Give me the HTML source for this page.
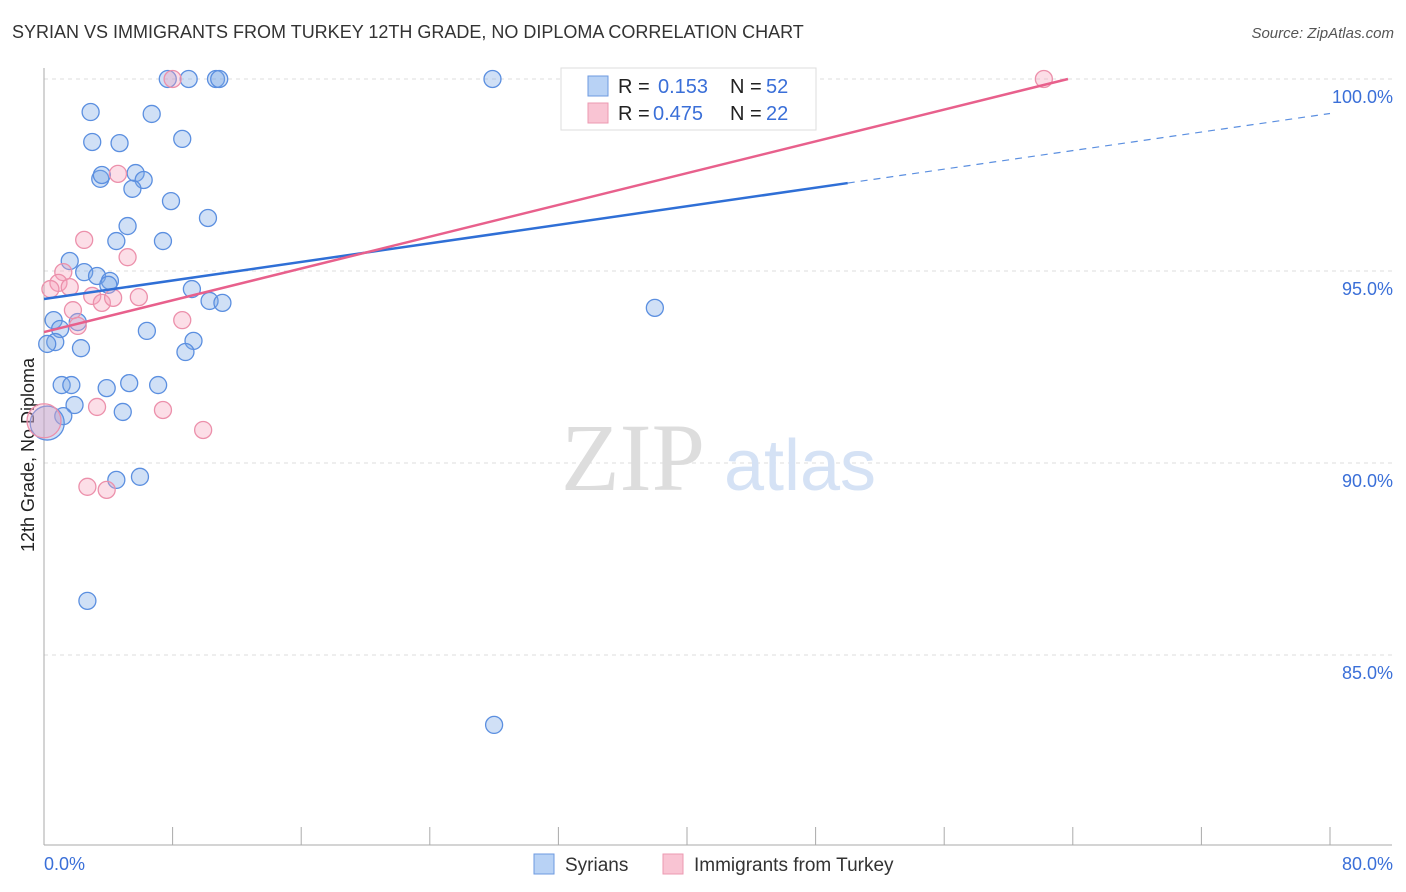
<!DOCTYPE html>
<html><head><meta charset="utf-8"><style>
body{margin:0;background:#fff;font-family:"Liberation Sans",sans-serif;}
#wrap{position:relative;width:1406px;height:892px;overflow:hidden;}
.t{position:absolute;white-space:nowrap;}
</style></head><body>
<div id="wrap">
<div class="t" style="left:12px;top:22px;font-size:18px;color:#333;">SYRIAN VS IMMIGRANTS FROM TURKEY 12TH GRADE, NO DIPLOMA CORRELATION CHART</div>
<div class="t" style="right:12px;top:25px;font-size:15px;color:#555;font-style:italic;">Source: ZipAtlas.com</div>
<svg id="plot" width="1406" height="892" style="position:absolute;left:0;top:0"></svg>
</div>
<script>
const xTicksPct=[0,80];
const yTicks=[85,90,95,100];
const syrX=[7.7,9.0,10.7,10.9,27.9,47.1,2.9,6.7,3.0,4.7,8.6,3.5,3.6,5.7,6.2,5.5,7.9,10.2,5.2,4.5,7.4,1.6,2.5,3.3,4.1,4.0,9.2,10.3,11.1,38.0,0.6,2.1,1.0,6.4,0.7,0.2,2.3,9.3,8.8,1.1,1.7,3.9,5.3,7.1,1.9,4.9,1.2,0.2,4.5,5.97,2.7,28.0];
const syrY=[100,100,100,100,100,100,99.14,99.09,98.36,98.33,98.44,97.40,97.50,97.55,97.37,97.14,96.82,96.38,96.17,95.78,95.78,95.26,94.97,94.87,94.74,94.64,94.53,94.22,94.17,94.04,93.72,93.67,93.49,93.44,93.15,93.10,92.99,93.18,92.89,92.03,92.03,91.95,92.08,92.03,91.51,91.33,91.22,91.04,89.56,89.64,86.41,83.18];
const turX=[8.0,62.2,4.6,2.5,5.2,1.2,0.9,1.6,0.4,3.0,3.6,4.3,5.9,1.8,2.1,8.6,3.3,7.4,9.9,2.7,3.9,0.0];
const turY=[100,100,97.53,95.81,95.36,94.97,94.69,94.58,94.53,94.35,94.17,94.30,94.32,93.98,93.57,93.72,91.46,91.38,90.86,89.38,89.30,91.10];
const turBig=21;const syrBig=47;
const blueLine=[94.27,97.29]; // y at x=0 and x=50
const pinkLine=[93.41,100];   // y at x=0 and x=63.7
const X=v=>44+v*16.075, Y=v=>79+(100-v)*38.4;
const svg=document.getElementById('plot');const NS='http://www.w3.org/2000/svg';
function mk(tag,attrs,name,parent){const e=document.createElementNS(NS,tag);for(const k in attrs)e.setAttribute(k,attrs[k]);


(parent||svg).appendChild(e);return e;}
// gridlines
yTicks.forEach(v=>{mk('line',{x1:44,x2:1392,y1:Y(v),y2:Y(v),stroke:'#ddd','stroke-dasharray':'4,4'},'gridline');
const t=mk('text',{x:1393,y:Y(v)+24,'text-anchor':'end','font-size':18,fill:'#3a6fd8','font-family':'Liberation Sans'},'y-tick-label');t.textContent=v.toFixed(1)+'%';});
mk('line',{x1:44,x2:44,y1:68,y2:845,stroke:'#aaa'},'y-axis');
mk('line',{x1:44,x2:1392,y1:845,y2:845,stroke:'#aaa'},'x-axis');
for(let i=0;i<=10;i++){mk('line',{x1:X(i*8),x2:X(i*8),y1:827,y2:845,stroke:'#aaa'},'x-tick');}
xTicksPct.forEach((v,i)=>{const t=mk('text',{x:i?1393:44,y:870,'text-anchor':i?'end':'start','font-size':18,fill:'#3a6fd8','font-family':'Liberation Sans'},'x-tick-label');t.textContent=v.toFixed(1)+'%';});
const yt=mk('text',{x:34,y:455,'text-anchor':'middle','font-size':18,fill:'#222',transform:'rotate(-90 34 455)','font-family':'Liberation Sans'},'y-axis-title');yt.textContent='12th Grade, No Diploma';
// watermark
const w1=mk('text',{x:633,y:490,'text-anchor':'middle','font-size':96,fill:'#ddd','font-family':'Liberation Serif'},'watermark-zip');w1.textContent='ZIP';
const w2=mk('text',{x:800,y:490,'text-anchor':'middle','font-size':72,fill:'#d5e2f5','font-family':'Liberation Sans'},'watermark-atlas');w2.textContent='atlas';
// points
syrX.forEach((x,i)=>{mk('circle',{cx:X(x),cy:Y(syrY[i]),r:i===syrBig?17:8.5,fill:'rgba(120,165,230,0.35)',stroke:'#5b8fe0','stroke-width':1.3},'syrian-point');});
turX.forEach((x,i)=>{mk('circle',{cx:X(x),cy:Y(turY[i]),r:i===turBig?17:8.5,fill:'rgba(245,160,185,0.35)',stroke:'#ec90ab','stroke-width':1.3},'turkey-point');});
// trend lines
const bs=(blueLine[1]-blueLine[0])/50;
mk('line',{x1:X(0),y1:Y(blueLine[0]),x2:X(50),y2:Y(blueLine[1]),stroke:'#2f6fd6','stroke-width':2.5},'syrian-trend-line');
mk('line',{x1:X(50),y1:Y(blueLine[1]),x2:X(80),y2:Y(blueLine[0]+bs*80),stroke:'#5b8fe0','stroke-width':1.2,'stroke-dasharray':'7,6'},'syrian-trend-extension');
mk('line',{x1:X(0),y1:Y(pinkLine[0]),x2:X(63.7),y2:Y(pinkLine[1]),stroke:'#e8608c','stroke-width':2.5},'turkey-trend-line');
// legend box
mk('rect',{x:561,y:68,width:255,height:62,fill:'#fff',stroke:'#ddd'},'legend-box');
mk('rect',{x:588,y:76,width:20,height:20,fill:'#b8d2f5',stroke:'#6d9ae0'},'legend-swatch-syrians');
mk('rect',{x:588,y:103,width:20,height:20,fill:'#f9c4d3',stroke:'#ec9ab2'},'legend-swatch-turkey');
function tx(x,y,s,c,n,size){const t=mk('text',{x:x,y:y,'font-size':size||20,fill:c,'font-family':'Liberation Sans'},n);t.textContent=s;}
tx(618,93,'R =','#222','legend-r-label');tx(658,93,'0.153','#3a6fd8','legend-r-syrians');tx(730,93,'N =','#222','legend-n-label');tx(766,93,'52','#3a6fd8','legend-n-syrians');
tx(618,120,'R =','#222','legend-r-label');tx(653,120,'0.475','#3a6fd8','legend-r-turkey');tx(730,120,'N =','#222','legend-n-label');tx(766,120,'22','#3a6fd8','legend-n-turkey');
// bottom legend
mk('rect',{x:534,y:854,width:20,height:20,fill:'#b8d2f5',stroke:'#6d9ae0'},'bottom-legend-swatch-syrians');
tx(565,871,'Syrians','#333','bottom-legend-syrians',19);
mk('rect',{x:663,y:854,width:20,height:20,fill:'#f9c4d3',stroke:'#ec9ab2'},'bottom-legend-swatch-turkey');
tx(694,871,'Immigrants from Turkey','#333','bottom-legend-turkey',19);
</script>
</body></html>
